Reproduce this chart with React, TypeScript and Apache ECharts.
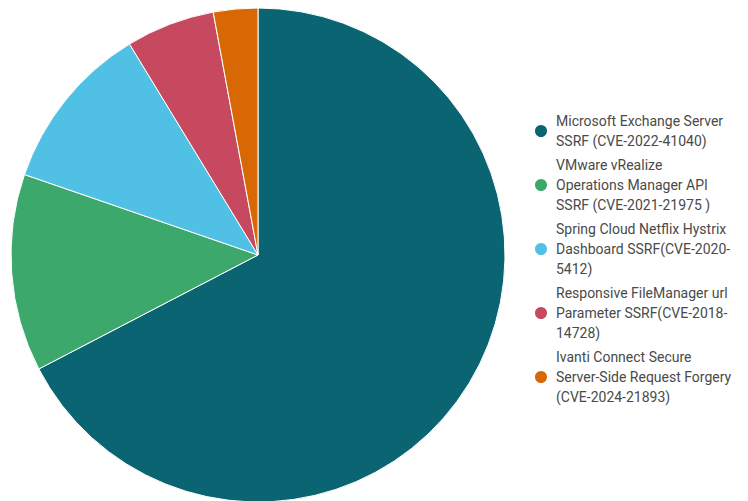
import React, { useEffect, useRef } from "react";
import * as echarts from "echarts";

const categories = [
  "Microsoft Exchange Server\nSSRF (CVE-2022-41040)",
  "VMware vRealize\nOperations Manager API\nSSRF (CVE-2021-21975 )",
  "Spring Cloud Netflix Hystrix\nDashboard SSRF(CVE-2020-\n5412)",
  "Responsive FileManager url\nParameter SSRF(CVE-2018-\n14728)",
  "Ivanti Connect Secure\nServer-Side Request Forgery\n(CVE-2024-21893)",
];
const values = [67.3, 12.9, 11.0, 5.8, 2.9];
const colors = ["#0b6472", "#3ca86c", "#50c1e4", "#c6495f", "#d76804"];

export default function App() {
  const ref = useRef<HTMLDivElement>(null);
  useEffect(() => {
    document.body.style.margin = "0";
    const chart = echarts.init(ref.current!, null, { renderer: "svg" });
    chart.setOption({
      animation: false,
      backgroundColor: "#ffffff",
      color: colors,
      legend: {
        orient: "vertical",
        left: 528,
        top: 106,
        icon: "circle",
        itemWidth: 20,
        itemHeight: 14,
        itemGap: 4,
        textStyle: {
          fontFamily: "Roboto",
          fontSize: 14,
          lineHeight: 20,
          color: "#4a4a4a",
        },
        data: categories,
      },
      series: [
        {
          type: "pie",
          center: [258, 255],
          radius: [0, 247],
          startAngle: 90,
          clockwise: true,
          label: { show: false },
          labelLine: { show: false },
          itemStyle: { borderColor: "#ffffff", borderWidth: 1 },
          data: categories.map((name, i) => ({ name, value: values[i] })),
        },
      ],
    });
    return () => chart.dispose();
  }, []);
  return (
    <div
      ref={ref}
      style={{ position: "fixed", left: 0, top: 0, width: 748, height: 501 }}
    />
  );
}
